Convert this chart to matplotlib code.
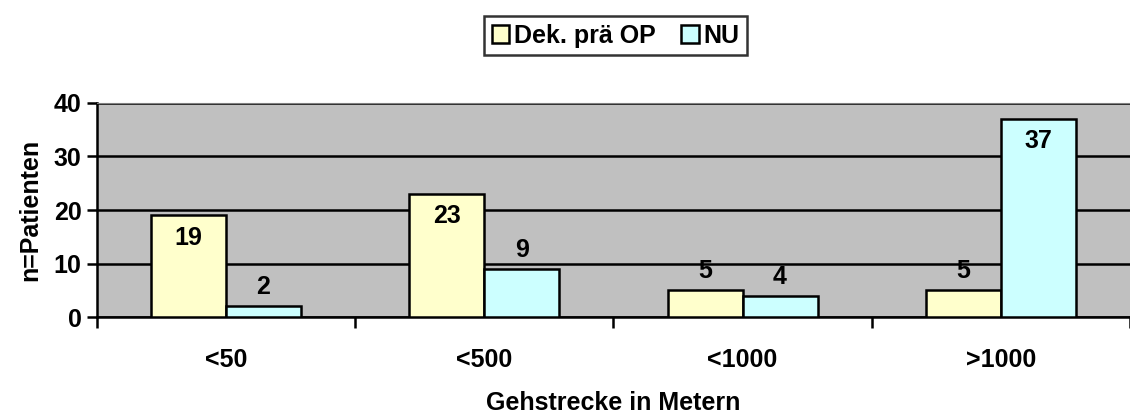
import matplotlib.pyplot as plt
import numpy as np
from matplotlib.ticker import FixedLocator, NullFormatter

categories = ['<50', '<500', '<1000', '>1000']
dek_pre_op = [19, 23, 5, 5]
nu = [2, 9, 4, 37]
series_names = ['Dek. prä OP', 'NU']

plt.rcParams['font.family'] = ['Liberation Sans', 'DejaVu Sans']
plt.rcParams['font.weight'] = 'bold'
fs = 18

fig = plt.figure(figsize=(11.3, 4.18), dpi=100)
ax = fig.add_axes([0.0858, 0.2416, 0.9142, 0.512])
ax.set_facecolor('#C0C0C0')

x = np.arange(len(categories))
w = 0.29
b1 = ax.bar(x - w / 2, dek_pre_op, w, color='#FFFFCC', edgecolor='black', linewidth=1.8,
            label=series_names[0], zorder=3)
b2 = ax.bar(x + w / 2, nu, w, color='#CCFFFF', edgecolor='black', linewidth=1.8,
            label=series_names[1], zorder=3)

for bars, vals in [(b1, dek_pre_op), (b2, nu)]:
    for rect, v in zip(bars, vals):
        cx = rect.get_x() + rect.get_width() / 2
        if v >= 15:
            ax.text(cx, v - 1.9, str(v), ha='center', va='top', fontsize=fs,
                    fontweight='bold', zorder=4)
        else:
            ax.text(cx, v + 1.3, str(v), ha='center', va='bottom', fontsize=fs,
                    fontweight='bold', zorder=4)

ax.set_xlim(-0.5, 3.5)
ax.set_ylim(0, 40)
ax.set_yticks([0, 10, 20, 30, 40])
ax.yaxis.grid(True, color='black', linewidth=1.8, zorder=1)
ax.set_axisbelow(True)

ax.xaxis.set_major_locator(FixedLocator([-0.5, 0.5, 1.5, 2.5, 3.5]))
ax.xaxis.set_major_formatter(NullFormatter())
ax.xaxis.set_minor_locator(FixedLocator(x))
ax.set_xticklabels(categories, minor=True)
ax.tick_params(axis='x', which='minor', length=0, pad=22, labelsize=fs)
ax.tick_params(axis='x', which='major', length=8, width=1.8, direction='out')
ax.tick_params(axis='y', length=7, width=1.8, direction='out', labelsize=fs, pad=4)

for s in ['left', 'bottom']:
    ax.spines[s].set_linewidth(1.8)
    ax.spines[s].set_color('black')
ax.spines['top'].set_color('#808080')
ax.spines['right'].set_visible(False)

ax.set_ylabel('n=Patienten', fontsize=fs, fontweight='bold', labelpad=8)
ax.set_xlabel('Gehstrecke in Metern', fontsize=fs, fontweight='bold', labelpad=14)

leg = fig.legend(loc='center', bbox_to_anchor=(0.545, 0.915), ncol=2, fontsize=fs,
                 frameon=True, fancybox=False, edgecolor='black', handlelength=0.7,
                 handleheight=0.7, handletextpad=0.2, columnspacing=1.0,
                 borderpad=0.3)
leg.get_frame().set_linewidth(1.8)

fig.savefig('out.png', dpi=100)
